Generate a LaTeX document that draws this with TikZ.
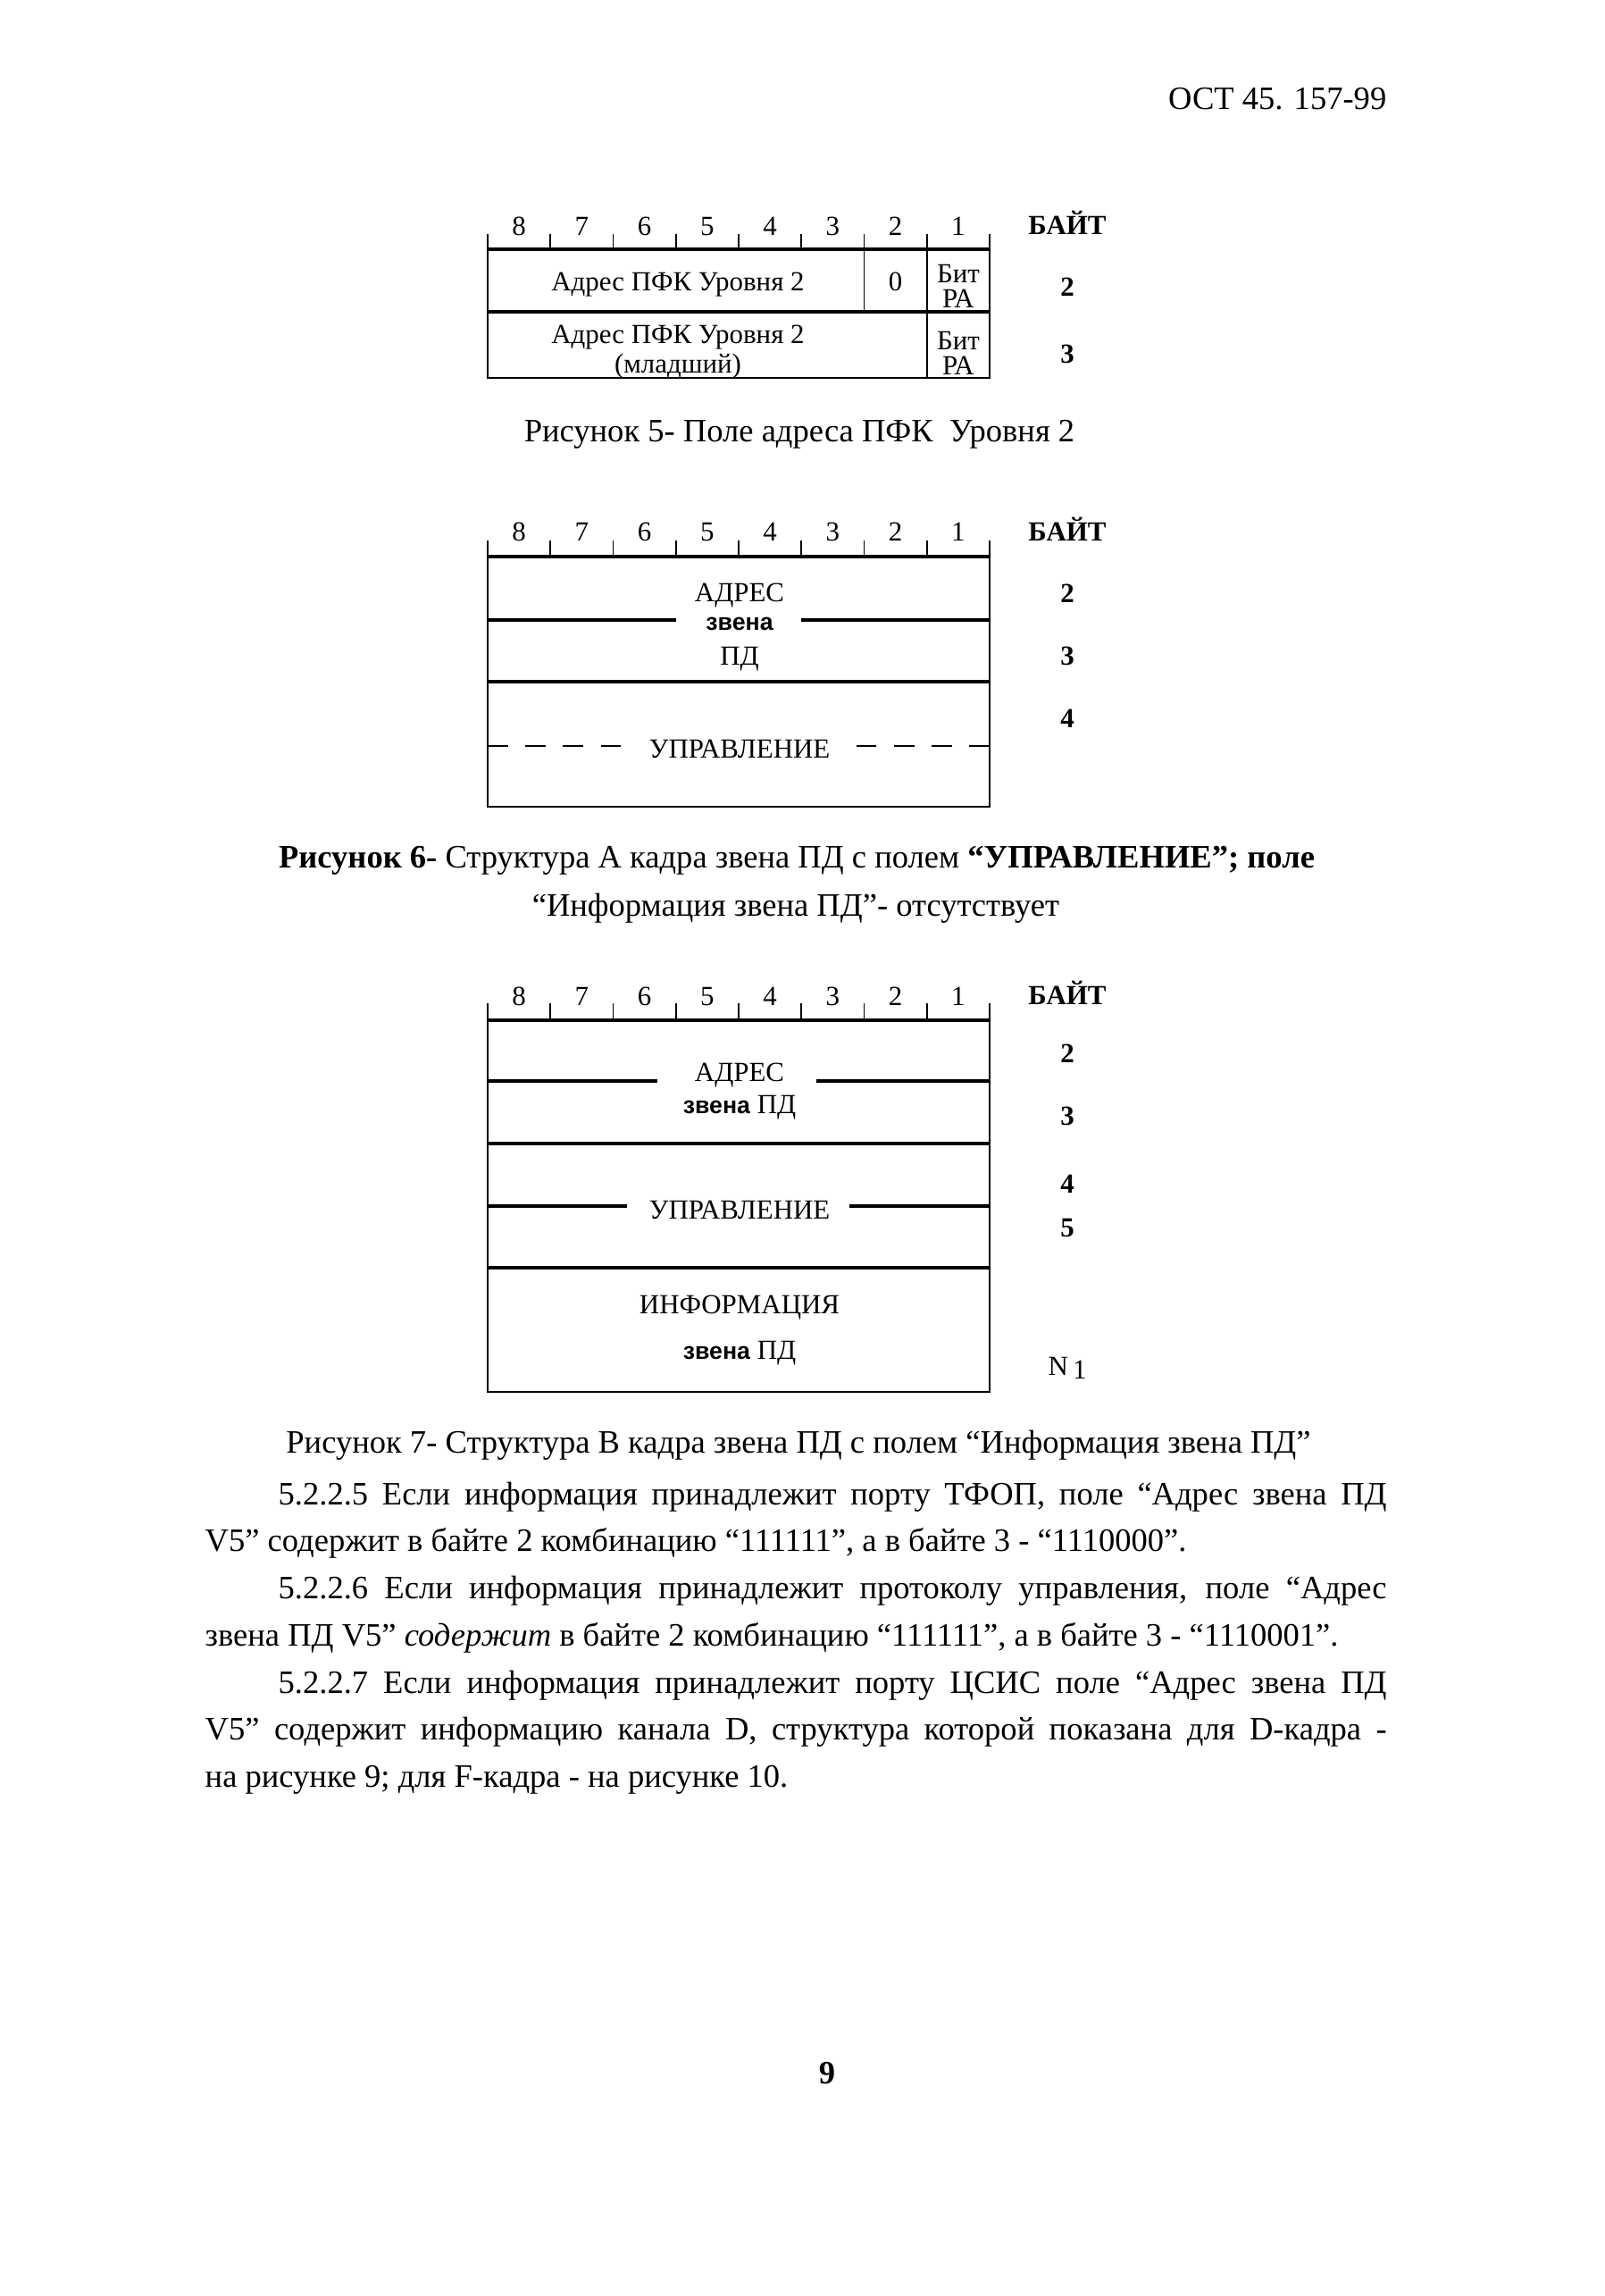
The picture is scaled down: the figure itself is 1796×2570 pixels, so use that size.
\documentclass[tikz,border=0pt]{standalone}
\usepackage{fontspec}
\setmainfont{Liberation Serif}
\setsansfont{Liberation Sans}
\usepackage{tikz}
\usetikzlibrary{positioning}
\newcommand{\figfont}{\fontsize{8.8}{10.5}\selectfont}
\newcommand{\txtfont}{\fontsize{10.4}{15.02}\selectfont}
\newcommand{\zv}{{\fontsize{7.6}{9}\selectfont\sffamily\bfseries звена}}

\begin{document}
\begin{tikzpicture}[x=0.1mm, y=-0.1mm,
  rim/.style={line width=0.55pt},
  heavyrule/.style={line width=1.15pt},
  fld/.style={font=\figfont, inner sep=0pt, anchor=base},
  bitno/.style={font=\figfont, inner sep=0pt, anchor=base},
  byteno/.style={font=\figfont\bfseries, inner sep=0pt, anchor=base},
  txt/.style={font=\txtfont, inner sep=0pt, anchor=base}]
\fill[white] (0,0) rectangle (1796,2570);
\useasboundingbox (0,0) rectangle (1796,2570);
\node[txt, anchor=base east] (hdr) at (1553,123) {ОСТ 45. 157-99};
% ---------- Figure 5: address field ----------
\begin{scope}[shift={(0,279)}]
  \foreach \n [count=\i] in {8,...,1}
    \node[bitno] (fa\n) at ({546+(\i-0.5)*70.25},-15) {\n};
  \foreach \i in {0,...,8}
    \draw[rim] ({546+\i*70.25},-17) -- ({546+\i*70.25},0);
  \node[byteno] (faB) at (1195,-16) {БАЙТ};
  \draw[heavyrule] (546,0) -- (1108,0);
  \draw[heavyrule] (546,70) -- (1108,70);
  \draw[rim] (546,0) -- (546,144) -- (1108,144) -- (1108,0);
  \draw[rim] (967.5,0) -- (967.5,70);
  \draw[rim] (1037.75,0) -- (1037.75,144);
  \node[fld] (faA) at (759,47) {Адрес ПФК Уровня 2};
  \node[fld] (faZ) at (1002.6,47) {0};
  \node[fld] (faP1) at (1073,38) {Бит};
  \node[fld] (faR1) at (1073,66) {РА};
  \node[fld] (faL) at (759,106) {Адрес ПФК Уровня 2};
  \node[fld] (faM) at (759,138) {(младший)};
  \node[fld] (faP2) at (1073,113) {Бит};
  \node[fld] (faR2) at (1073,141) {РА};
  \node[byteno] (fa2) at (1195,53) {2};
  \node[byteno] (fa3) at (1195,128) {3};
\end{scope}
\node[txt] (capa) at (895,495) {Рисунок 5- Поле адреса ПФК\ \ Уровня 2};
% ---------- Figure 6: frame A ----------
\begin{scope}[shift={(0,623)}]
  \foreach \n [count=\i] in {8,...,1}
    \node[bitno] (fb\n) at ({546+(\i-0.5)*70.25},-18) {\n};
  \foreach \i in {0,...,8}
    \draw[rim] ({546+\i*70.25},-18) -- ({546+\i*70.25},0);
  \node[byteno] (fbB) at (1195,-18) {БАЙТ};
  \draw[heavyrule] (546,0) -- (1108,0);
  \draw[rim] (546,0) -- (546,280) -- (1108,280) -- (1108,0);
  \draw[heavyrule] (546,71) -- (756.75,71) (897.25,71) -- (1108,71);
  \draw[heavyrule] (546,140) -- (1108,140);
  \draw[rim, dash pattern=on 6.5pt off 5.5pt] (546,212) -- (702,212);
  \draw[rim, dash pattern=on 6.5pt off 5.5pt] (1108,212) -- (949,212);
  \node[fld] (fbA) at (828,50) {АДРЕС};
  \node[fld] (fbZ) at (828,82) {\zv};
  \node[fld] (fbP) at (828,121) {ПД};
  \node[fld] (fbU) at (828,225) {УПРАВЛЕНИЕ};
  \node[byteno] (fb2) at (1195,51) {2};
  \node[byteno] (fb3) at (1195,121) {3};
  \node[byteno] (fb4) at (1195,191) {4};
\end{scope}
\node[txt] (capb1) at (892,971) {\textbf{Рисунок 6-} Структура А кадра звена ПД с полем \textbf{“УПРАВЛЕНИЕ”; поле}};
\node[txt] (capb2) at (891,1025) {“Информация звена ПД”- отсутствует};
% ---------- Figure 7: frame B ----------
\begin{scope}[shift={(0,1142)}]
  \foreach \n [count=\i] in {8,...,1}
    \node[bitno] (fc\n) at ({546+(\i-0.5)*70.25},-17) {\n};
  \foreach \i in {0,...,8}
    \draw[rim] ({546+\i*70.25},-19) -- ({546+\i*70.25},0);
  \node[byteno] (fcB) at (1195,-18) {БАЙТ};
  \draw[heavyrule] (546,0) -- (1108,0);
  \draw[rim] (546,0) -- (546,416) -- (1108,416) -- (1108,0);
  \draw[heavyrule] (546,68) -- (736,68) (914,68) -- (1108,68);
  \draw[heavyrule] (546,138) -- (1108,138);
  \draw[heavyrule] (546,208) -- (702,208) (951,208) -- (1108,208);
  \draw[heavyrule] (546,277) -- (1108,277);
  \node[fld] (fcA) at (828,68) {АДРЕС};
  \node[fld] (fcZ) at (828,104) {\zv{} ПД};
  \node[fld] (fcU) at (828,222) {УПРАВЛЕНИЕ};
  \node[fld] (fcI) at (828,328) {ИНФОРМАЦИЯ};
  \node[fld] (fcZ2) at (828,379) {\zv{} ПД};
  \node[byteno] (fc2) at (1195,47) {2};
  \node[byteno] (fc3) at (1195,117) {3};
  \node[byteno] (fc4) at (1195,193) {4};
  \node[byteno] (fc5) at (1195,242) {5};
  \node[fld] (fcN) at (1195,397) {N\,\raisebox{-0.35ex}{1}};
\end{scope}
\node[txt] (capc) at (894,1626) {Рисунок 7- Структура В кадра звена ПД с полем “Информация звена ПД”};
% ---------- text ----------
\node[txt, anchor=base west, text width=132.3mm, align=justify] (para) at (229,1684)
  {\hspace*{8.2mm}5.2.2.5 Если информация принадлежит порту ТФОП, поле “Адрес звена ПД\linebreak
   V5” содержит в байте 2 комбинацию “111111”, а в байте 3 - “1110000”.\par
   \hspace*{8.2mm}5.2.2.6 Если информация принадлежит протоколу управления, поле “Адрес\linebreak
   звена ПД V5” \textit{содержит} в байте 2 комбинацию “111111”, а в байте 3 - “1110001”.\par
   \hspace*{8.2mm}5.2.2.7 Если информация принадлежит порту ЦСИС поле “Адрес звена ПД\linebreak
   V5” содержит информацию канала D, структура которой показана для D-кадра -\linebreak
   на рисунке 9; для F-кадра - на рисунке 10.\par};
\node[txt, font=\txtfont\bfseries] (pgno) at (926,2332) {9};
\end{tikzpicture}
\end{document}
